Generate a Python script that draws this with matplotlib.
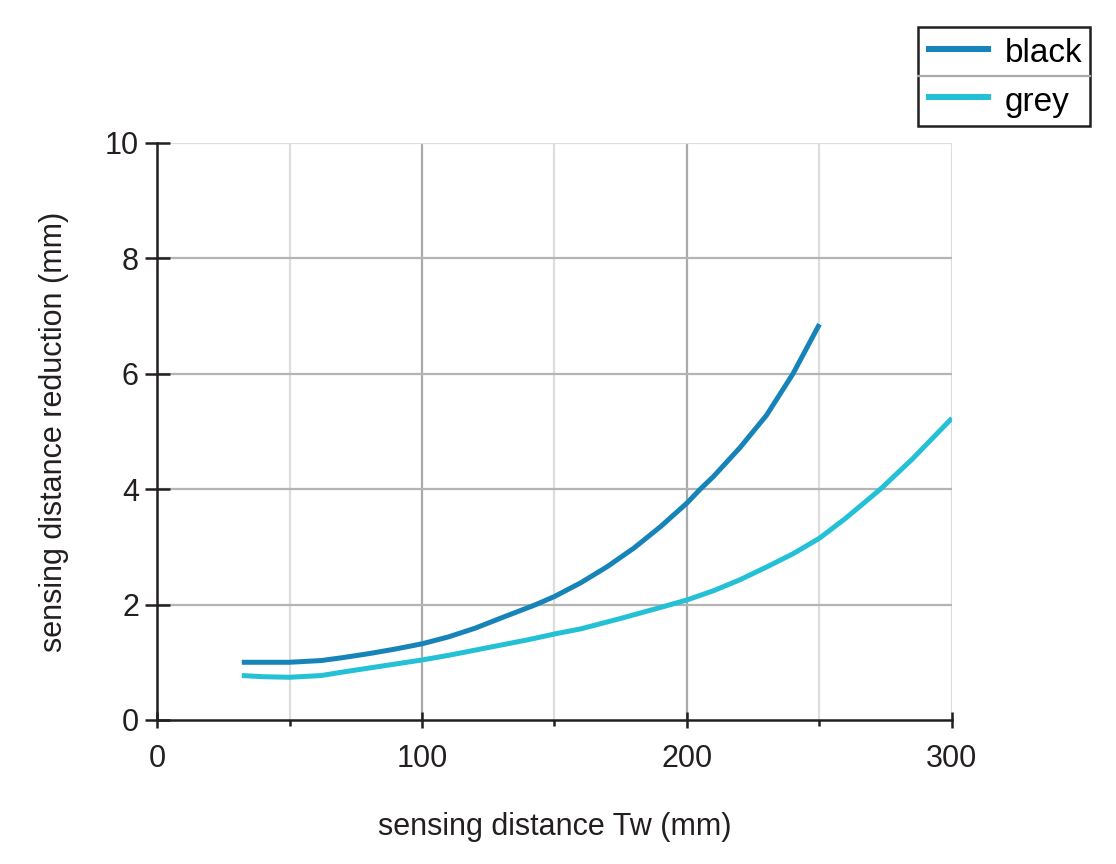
import matplotlib.pyplot as plt
from matplotlib.lines import Line2D

# values
black_x = [32, 40, 50, 62, 70, 80, 90, 100, 110, 120, 130, 143, 150, 160, 170,
           180, 190, 200, 205, 210, 220, 225, 230, 240, 250]
black_y = [1.0, 1.0, 1.0, 1.03, 1.08, 1.15, 1.23, 1.32, 1.44, 1.59, 1.77, 2.0,
           2.14, 2.38, 2.66, 2.98, 3.35, 3.76, 4.0, 4.22, 4.72, 5.0, 5.28, 6.0, 6.86]
grey_x = [32, 40, 50, 62, 70, 80, 90, 100, 110, 120, 130, 140, 150, 160, 175,
          190, 200, 210, 220, 230, 240, 250, 260, 273, 285, 300]
grey_y = [0.77, 0.75, 0.74, 0.77, 0.83, 0.9, 0.97, 1.04, 1.12, 1.21, 1.3, 1.39,
          1.49, 1.58, 1.76, 1.95, 2.08, 2.24, 2.43, 2.65, 2.88, 3.15, 3.5, 4.0,
          4.52, 5.23]
series_names = ['black', 'grey']
x_major = [0, 100, 200, 300]
x_minor = [50, 150, 250]
y_major = [0, 2, 4, 6, 8, 10]

plt.rcParams['font.family'] = ['Liberation Sans', 'DejaVu Sans']
ink = '#231f20'

fig = plt.figure(figsize=(11.16, 8.64), dpi=100)
ax = fig.add_axes([0.1407, 0.1667, 0.853 - 0.1407, 0.8345 - 0.1667])

# grid
for gx in [100, 200]:
    ax.axvline(gx, color='#aaaaaa', lw=1.6, zorder=0)
for gx in [50, 150, 250, 300]:
    ax.axvline(gx, color='#dddddd', lw=1.6, zorder=0)
for gy in [2, 4, 6, 8]:
    ax.axhline(gy, color='#b4b4b4', lw=1.6, zorder=0)
ax.axhline(10, color='#dddddd', lw=1.6, zorder=0)

l1, = ax.plot(black_x, black_y, color='#1784b9', lw=3.6, solid_capstyle='butt',
              solid_joinstyle='round')
l2, = ax.plot(grey_x, grey_y, color='#24c1d6', lw=3.6, solid_capstyle='butt',
              solid_joinstyle='round')

ax.set_xlim(0, 300)
ax.set_ylim(0, 10)
ax.spines['top'].set_visible(False)
ax.spines['right'].set_visible(False)
for s in ['left', 'bottom']:
    ax.spines[s].set_linewidth(1.8)
    ax.spines[s].set_color(ink)

ax.set_xticks(x_major)
ax.set_xticks(x_minor, minor=True)
ax.set_yticks(y_major)
ax.tick_params(axis='x', which='major', direction='inout', length=12, width=1.8,
               color=ink, labelsize=22, pad=11)
ax.tick_params(axis='x', which='minor', direction='out', length=4, width=1.8,
               color=ink)
ax.tick_params(axis='y', which='major', direction='inout', length=18, width=1.8,
               color=ink, labelsize=22, pad=4)
for lab in ax.get_xticklabels() + ax.get_yticklabels():
    lab.set_color(ink)

ax.set_xlabel('sensing distance Tw (mm)', fontsize=22, labelpad=28, color=ink)
ax.set_ylabel('sensing distance reduction (mm)', fontsize=22, labelpad=26, color=ink)

leg = ax.legend([l1, l2], series_names, loc='upper right',
                bbox_to_anchor=(0.977, 0.969), bbox_transform=fig.transFigure,
                borderaxespad=0, fancybox=False, fontsize=24, handlelength=1.95,
                handletextpad=0.4, borderpad=0.25, labelspacing=0.42,
                handleheight=1.1, framealpha=1)
leg.get_frame().set_edgecolor(ink)
leg.get_frame().set_linewidth(1.8)
for h in leg.legend_handles:
    h.set_linewidth(4.3)

fig.canvas.draw()
bb = leg.get_window_extent().transformed(fig.transFigure.inverted())
ymid = (bb.y0 + bb.y1) / 2
fig.add_artist(Line2D([bb.x0, bb.x1], [ymid, ymid], transform=fig.transFigure,
                      color='#aaaaaa', lw=1.6))

fig.savefig('out.png', dpi=100)
